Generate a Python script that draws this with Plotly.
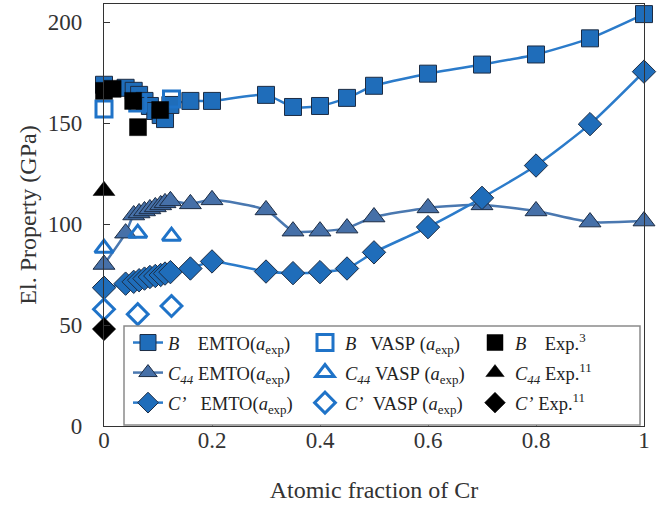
import plotly.graph_objects as go

# ---- data ----
x_emto = [0, 0.04, 0.055, 0.065, 0.075, 0.085, 0.095, 0.105, 0.113, 0.123,
          0.16, 0.2, 0.3, 0.35, 0.4, 0.45, 0.5, 0.6, 0.7, 0.8, 0.9, 1.0]
B_emto = [169, 167.5, 166, 164, 161, 158.5, 156, 154, 152, 159,
          161, 161, 164, 158, 158.5, 162.5, 168.5, 174.5, 179, 184, 192, 204]
C44_emto = [80, 95.5, 104.5, 105.5, 106.5, 107.5, 108.5, 109.5, 110.5, 111.5,
            110, 112, 107, 96.5, 96.5, 98, 103.5, 108, 109.5, 106.5, 101, 101.5]
Cp_emto = [68.5, 70.5, 71.4, 72.2, 73, 73.8, 74.3, 74.8, 75.5, 76.2,
           78, 81.5, 76.5, 75.7, 76.2, 78, 86, 98.5, 113, 129, 149.5, 175.5]

x_vasp = [0, 0.0625, 0.125]
B_vasp = [157, 160, 162]
C44_vasp = [88, 95.5, 94]
Cp_vasp = [57.8, 55.4, 59.4]

x_Bexp = [0, 0.016, 0.054, 0.063, 0.104]
B_exp = [166, 167, 161, 148, 156.5]
x_C44exp = [0]
C44_exp = [116.5]
x_Cpexp = [0]
Cp_exp = [48]

x_ticks = [0, 0.2, 0.4, 0.6, 0.8, 1]
x_ticklabels = ["0", "0.2", "0.4", "0.6", "0.8", "1"]
y_ticks = [0, 50, 100, 150, 200]

# ---- styles ----
blue_fill = "#1f6dba"
tri_fill = "#4670a8"
edge = "#1c2c44"
line_blue = "#2b7bca"
line_tri = "#4a78b0"
vasp = "#1f73c8"
SP = "\u00a0"

W, H = 660, 508
L, R, T, B = 104, 16, 4, 82
PW, PH = W - L - R, H - T - B

def px_x(p):
    return (p - L) / PW

def px_y(p):
    return (H - B - p) / PH

fig = go.Figure()

def emto(y, name, symbol, fill, lcol, size, leg):
    fig.add_trace(go.Scatter(
        x=x_emto, y=y, name=name, mode="lines+markers", legend=leg, legendgroup=name,
        line=dict(color=lcol, width=2.5, shape="spline", smoothing=0.6),
        marker=dict(symbol=symbol, size=size, color=fill,
                    line=dict(color=edge, width=1)),
        cliponaxis=False))

def vasp_tr(y, name, symbol, size, leg):
    fig.add_trace(go.Scatter(
        x=x_vasp, y=y, name=name, mode="markers", legend=leg, legendgroup=name,
        marker=dict(symbol=symbol, size=size, color=vasp,
                    line=dict(color=vasp, width=3)),
        cliponaxis=False))

def exp_tr(x, y, name, symbol, size, leg):
    fig.add_trace(go.Scatter(
        x=x, y=y, name=name, mode="markers", legend=leg, legendgroup=name,
        marker=dict(symbol=symbol, size=size, color="black",
                    line=dict(color="black", width=0.5)),
        cliponaxis=False))

aexp = "(<i>a</i><sub>exp</sub>)"
emto(B_emto, f"<i>B</i>{SP*4}EMTO{aexp}", "square", blue_fill, line_blue, 17, "legend")
emto(C44_emto, f"<i>C<sub>44</sub></i>{SP}EMTO{aexp}", "triangle-up", tri_fill, line_tri, 19, "legend")
emto(Cp_emto, f"<i>C’</i>{SP*3}EMTO{aexp}", "diamond", blue_fill, line_blue, 18, "legend")
vasp_tr(B_vasp, f"<i>B</i>{SP*3}VASP{SP}{aexp}", "square-open", 16, "legend2")
vasp_tr(C44_vasp, f"<i>C<sub>44</sub></i>{SP}VASP{SP}{aexp}", "triangle-up-open", 16, "legend2")
vasp_tr(Cp_vasp, f"<i>C’</i>{SP*2}VASP{SP}{aexp}", "diamond-open", 16, "legend2")
exp_tr(x_Bexp, B_exp, f"<i>B</i>{SP*4}Exp.<sup>3</sup>", "square", 17, "legend3")
exp_tr(x_C44exp, C44_exp, f"<i>C<sub>44</sub></i>{SP}Exp.<sup>11</sup>", "triangle-up", 19, "legend3")
exp_tr(x_Cpexp, Cp_exp, f"<i>C’</i>{SP}Exp.<sup>11</sup>", "diamond", 18, "legend3")

font_family = "Liberation Serif"
leg_font = dict(family=font_family, size=18.5, color="#222")

def leg(xpx):
    return dict(orientation="v", x=px_x(xpx), y=px_y(324), xanchor="left", yanchor="top",
                font=leg_font, bgcolor="rgba(0,0,0,0)", borderwidth=0,
                itemwidth=30, tracegroupgap=3, traceorder="grouped")

fig.update_layout(
    width=W, height=H,
    margin=dict(l=L, r=R, t=T, b=B),
    paper_bgcolor="white", plot_bgcolor="white",
    font=dict(family=font_family, color="#222", size=18),
    showlegend=True,
    legend=leg(128),
    legend2=leg(305),
    legend3=leg(475),
    shapes=[dict(type="rect", xref="paper", yref="paper",
                 x0=px_x(124), x1=px_x(640), y0=px_y(425), y1=px_y(326),
                 fillcolor="white", line=dict(color="#8a8a8a", width=1.5),
                 layer="above")],
    xaxis=dict(range=[0, 1], tickvals=x_ticks, ticktext=x_ticklabels,
               ticks="inside", ticklen=6, tickcolor="#333",
               showline=True, linecolor="#333", linewidth=1.3, mirror=True,
               showgrid=False, zeroline=False, ticklabelstandoff=-7,
               tickfont=dict(size=23, family=font_family, color="#333"),
               title=dict(text="Atomic fraction of Cr", standoff=29,
                          font=dict(size=24, family=font_family, color="#333"))),
    yaxis=dict(range=[0, 209], tickvals=y_ticks,
               ticks="inside", ticklen=6, tickcolor="#333",
               showline=True, linecolor="#333", linewidth=1.3, mirror=True,
               showgrid=False, zeroline=False, ticklabelstandoff=16,
               tickfont=dict(size=23, family=font_family, color="#333"),
               title=dict(text="El. Property (GPa)", standoff=4,
                          font=dict(size=24, family=font_family, color="#333"))),
)

fig.write_html("out.html", config={"displayModeBar": False},
               post_script="document.body.style.margin='0';")
